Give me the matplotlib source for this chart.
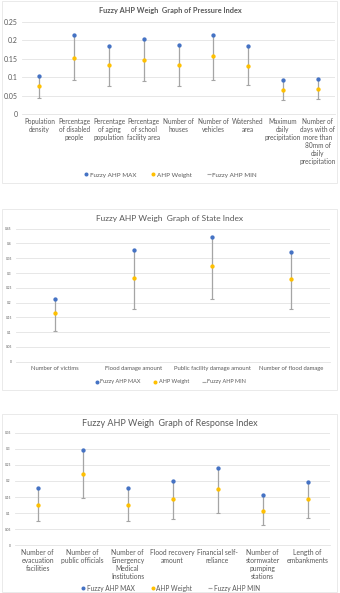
import matplotlib
matplotlib.use("Agg")
import matplotlib.pyplot as plt
from matplotlib.patches import Rectangle

plt.rcParams['font.family'] = ['Lato', 'DejaVu Sans']

W, H = 340, 593

# pressure index
pressure_cats = ["Population\ndensity", "Percentage\nof disabled\npeople", "Percentage\nof aging\npopulation",
                 "Percentage\nof school\nfacility area", "Number of\nhouses", "Number of\nvehicles",
                 "Watershed\narea", "Maximum\ndaily\nprecipitation",
                 "Number of\ndays with of\nmore than\n80mm of\ndaily\nprecipitation"]
pressure_max = [0.102, 0.215, 0.183, 0.203, 0.186, 0.215, 0.183, 0.091, 0.096]
pressure_wt = [0.075, 0.153, 0.134, 0.145, 0.132, 0.156, 0.129, 0.064, 0.068]
pressure_min = [0.044, 0.091, 0.076, 0.090, 0.075, 0.093, 0.079, 0.038, 0.040]

# state index
state_cats = ["Number of victims", "Flood damage amount", "Public facility damage amount",
              "Number of flood damage"]
state_max = [0.212, 0.378, 0.423, 0.370]
state_wt = [0.164, 0.284, 0.323, 0.280]
state_min = [0.103, 0.179, 0.211, 0.177]

# response index
resp_cats = ["Number of\nevacuation\nfacilities", "Number of\npublic officials",
             "Number of\nEmergency\nMedical\nInstitutions", "Flood recovery\namount",
             "Financial self-\nreliance", "Number of\nstormwater\npumping\nstations",
             "Length of\nembankments"]
resp_max = [0.179, 0.297, 0.177, 0.200, 0.239, 0.157, 0.197]
resp_wt = [0.125, 0.223, 0.125, 0.144, 0.175, 0.108, 0.144]
resp_min = [0.075, 0.148, 0.076, 0.083, 0.101, 0.063, 0.085]

BLUE = "#4472C4"
GOLD = "#FFC000"
GRAY = "#A5A5A5"
TXT = "#595959"

fig = plt.figure(figsize=(W / 100, H / 100), dpi=100)


def frac(x0, y0, x1, y1):
    # pixel box (top-left origin) -> figure fraction rect
    return [x0 / W, 1 - y1 / H, (x1 - x0) / W, (y1 - y0) / H]


def box(x0, y0, x1, y1):
    fig.patches.append(Rectangle((x0 / W, 1 - y1 / H), (x1 - x0) / W, (y1 - y0) / H,
                                 transform=fig.transFigure, fill=False,
                                 ec="#E6E6E6", lw=0.6))


def chart(rect, cats, vmax, vwt, vmin, ymax, ticks, title, title_y, title_fs,
          ytick_fs, xtick_fs, legend_y, legend_fs, bold=False):
    ax = fig.add_axes(frac(*rect))
    x = list(range(len(cats)))
    ax.vlines(x, vmin, vmax, color=GRAY, lw=0.9, zorder=2)
    ax.plot(x, vmax, ls="none", marker="o", ms=2.1, color=BLUE, label="Fuzzy AHP MAX", zorder=3)
    ax.plot(x, vwt, ls="none", marker="o", ms=2.1, color=GOLD, label="AHP Weight", zorder=3)
    ax.plot(x, vmin, ls="none", marker="_", ms=2.5, mew=0.8, color=GRAY, label="Fuzzy AHP MIN", zorder=3)
    ax.set_xlim(-0.5, len(cats) - 0.5)
    ax.set_ylim(0, ymax)
    ax.set_yticks(ticks)
    ax.set_yticklabels([("%g" % t) for t in ticks], fontsize=ytick_fs, color=TXT)
    ax.set_xticks(x)
    ax.set_xticklabels(cats, fontsize=xtick_fs, color=TXT, linespacing=1.15, va="top")
    ax.tick_params(length=0, pad=3)
    ax.grid(axis="y", color="#E3E3E3", lw=0.6, zorder=0)
    for s in ax.spines.values():
        s.set_visible(False)
    ax.spines["bottom"].set_visible(True)
    ax.spines["bottom"].set_color("#E3E3E3")
    ax.spines["bottom"].set_linewidth(0.6)
    fig.text(0.5, 1 - title_y / H, title, ha="center", va="center", fontsize=title_fs,
             color=TXT, fontweight="bold" if bold else "normal")
    fig.legend(handles=ax.get_lines(), loc="center", bbox_to_anchor=(0.5, 1 - legend_y / H),
               ncol=3, frameon=False, fontsize=legend_fs, handletextpad=0.1,
               columnspacing=2.2, handlelength=1.0, labelcolor=TXT, markerscale=0.9)
    return ax


# frames
box(2, 1, 337, 183)
box(2, 209, 337, 390)
box(2, 414, 337, 592)

chart((22, 21.7, 335, 114), pressure_cats, pressure_max, pressure_wt, pressure_min,
      0.25, [0, 0.05, 0.1, 0.15, 0.2, 0.25],
      "Fuzzy AHP Weigh  Graph of Pressure Index", 10, 5.3, 5, 4.7, 175, 4.5, bold=True)

chart((16, 228.7, 330, 361.7), state_cats, state_max, state_wt, state_min,
      0.45, [0, 0.05, 0.1, 0.15, 0.2, 0.25, 0.3, 0.35, 0.4, 0.45],
      "Fuzzy AHP Weigh  Graph of State Index", 218, 6, 2.3, 4.2, 382, 4.0)

chart((15, 432.7, 330, 545.3), resp_cats, resp_max, resp_wt, resp_min,
      0.35, [0, 0.05, 0.1, 0.15, 0.2, 0.25, 0.3, 0.35],
      "Fuzzy AHP Weigh  Graph of Response Index", 423, 6.5, 2.3, 4.9, 588, 4.7)

fig.savefig("out.png", dpi=100, facecolor="white")
